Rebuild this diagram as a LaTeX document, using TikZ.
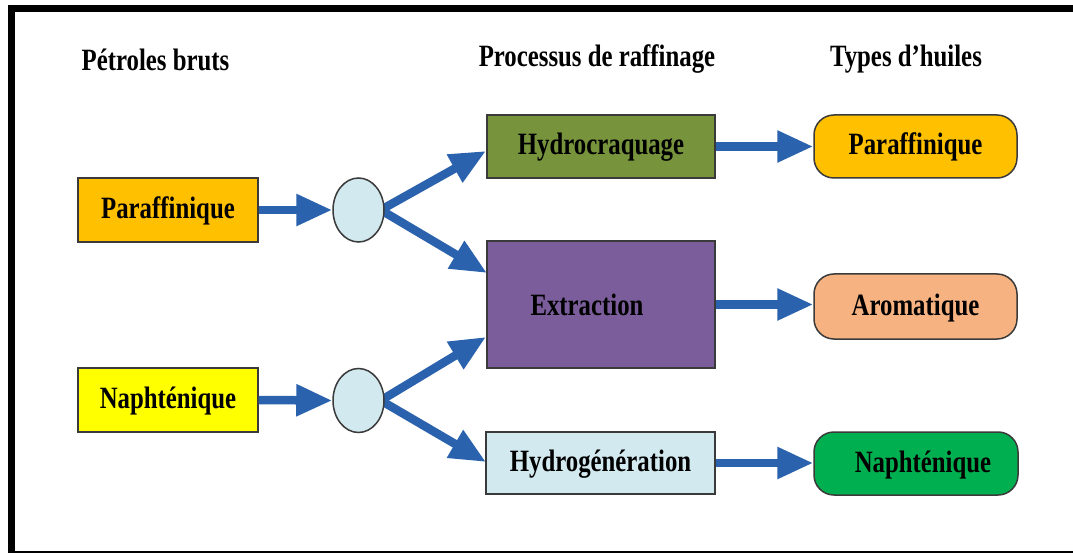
\documentclass[tikz,border=0pt]{standalone}
\usepackage{fontspec}
\setmainfont{Liberation Serif}[FakeStretch=0.8]
\usetikzlibrary{shapes.geometric,arrows.meta,backgrounds}

\definecolor{gold}{HTML}{FFC000}
\definecolor{lemon}{HTML}{FFFF00}
\definecolor{olive}{HTML}{77933C}
\definecolor{violet}{HTML}{7A5D9A}
\definecolor{pale}{HTML}{D2E9EF}
\definecolor{peach}{HTML}{F6B381}
\definecolor{leaf}{HTML}{00B050}
\definecolor{flow}{HTML}{2A62AD}
\definecolor{edge}{HTML}{3A3A3A}

\begin{document}
\begin{tikzpicture}[x=1pt,y=-1pt,
  every node/.style={font=\fontsize{31}{36}\selectfont\bfseries, inner sep=0pt},
  box/.style={draw=edge, line width=1.2pt, text height=20pt, text depth=3pt},
  pill/.style={draw=edge, line width=1.5pt, rounded corners=20pt, text height=20pt, text depth=3pt},
  hub/.style={ellipse, draw=edge, line width=1.5pt, fill=pale, minimum width=51pt, minimum height=64pt},
  title/.style={anchor=base},
  arr/.style={draw=flow, line width=8.5pt, -{Triangle[length=36pt,width=30pt]}}
]
\useasboundingbox (0,0) rectangle (1073,553);
\clip (0,0) rectangle (1073,553);

% column headings
\node[title] (h1) at (155.5,71) {Pétroles bruts};
\node[title] (h2) at (597,67) {Processus de raffinage};
\node[title] (h3) at (906,67) {Types d’huiles};

% crude oils
\node[box, fill=gold, minimum width=180pt, minimum height=64pt] (pb) at (168,210) {Paraffinique};
\node[box, fill=lemon, minimum width=180pt, minimum height=64pt] (nb) at (168,400) {Naphténique};

% junctions
\node[hub] (e1) at (358.5,210) {};
\node[hub] (e2) at (358.5,400.5) {};

% refining processes
\node[box, fill=olive, minimum width=228pt, minimum height=63pt] (hc) at (601,146.5) {Hydrocraquage};
\node[box, fill=violet, minimum width=228pt, minimum height=127pt, text height=22pt, text depth=1pt] (ex) at (601,304.5) {Extraction\hspace*{28pt}};
\node[box, fill=pale, minimum width=229pt, minimum height=62pt] (hg) at (600.5,463) {Hydrogénération};

% oil types
\node[pill, fill=gold, minimum width=203pt, minimum height=63pt] (rp) at (915.5,146.5) {Paraffinique};
\node[pill, fill=peach, minimum width=203pt, minimum height=65pt] (ra) at (915.5,306.5) {Aromatique};
\node[pill, fill=leaf, minimum width=204pt, minimum height=63pt] (rn) at (916,463.5) {\hspace*{14pt}Naphténique};

% arrow tips on the process boxes
\coordinate (t1) at (486,151);
\coordinate (t2) at (487,273);
\coordinate (t3) at (486,337);
\coordinate (t4) at (486,462);

% white ground and branching arrows behind the nodes
\begin{scope}[on background layer]
  \fill[white] (0,0) rectangle (1073,553);
  \draw[arr] ([xshift=-4pt]e1.east) -- (t1);
  \draw[arr] ([xshift=-4pt]e1.east) -- (t2);
  \draw[arr] ([xshift=-4pt]e2.east) -- (t3);
  \draw[arr] ([xshift=-4pt]e2.east) -- (t4);
\end{scope}

% frame
\draw[line width=7pt] (11.5,8.5) rectangle (1090,554);

% straight arrows
\draw[arr] (pb.east) -- (e1.west);
\draw[arr] (nb.east) -- (e2.west);
\draw[arr] (hc.east) -- (rp.west);
\draw[arr] (ex.east) -- (ex.east -| ra.west);
\draw[arr] (hg.east) -- (hg.east -| rn.west);
\end{tikzpicture}
\end{document}
